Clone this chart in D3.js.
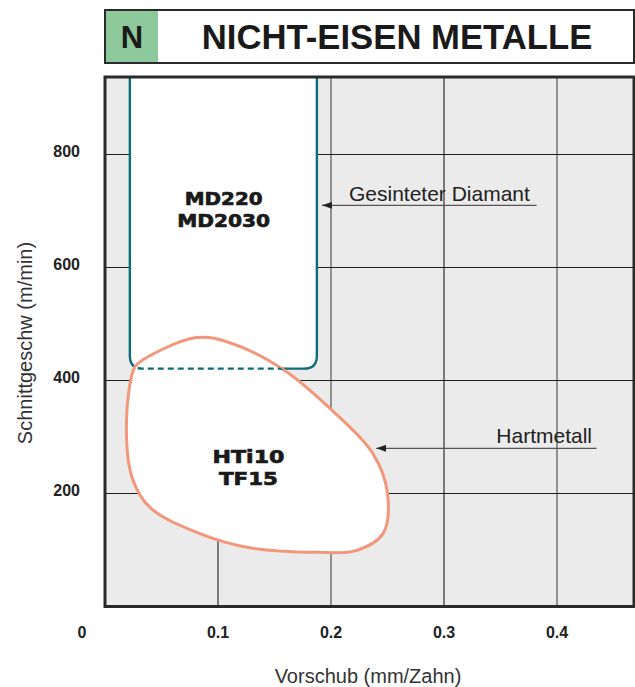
<!DOCTYPE html>
<html><head><meta charset="utf-8">
<script src="https://cdn.jsdelivr.net/npm/d3@7"></script>
<style>
html,body{margin:0;padding:0;background:#fff;}
svg{display:block;font-family:"Liberation Sans",Arial,Helvetica,sans-serif;}
</style></head>
<body>
<svg id="chart" width="635" height="687"></svg>
<script>
// ---- data ----
const titleLetter = "N";
const titleText = "NICHT-EISEN METALLE";
const xTicks = [0.1, 0.2, 0.3, 0.4];
const xTickLabels = ["0.1", "0.2", "0.3", "0.4"];
const yTicks = [200, 400, 600, 800];
const yTickLabels = ["200", "400", "600", "800"];
const originLabel = "0";
const xTitle = "Vorschub (mm/Zahn)";
const yTitle = "Schnittgeschw (m/min)";
// Sintered diamond region (MD220/MD2030): feed range and minimum speed
const diamondFeed = [0.022, 0.1875];
const diamondSpeed = [421, 1000];
const diamondLabels = ["MD220", "MD2030"];
const diamondLabelPos = [0.105, 710, 671];
const diamondName = "Gesinteter Diamant";
const diamondArrow = [[0.382, 710], [0.192, 710]];
const diamondNamePos = [0.376, 718];
// Carbide region (HTi10/TF15) outline points [feed, speed]
const carbideFeed =  [0.029, 0.081, 0.113, 0.158, 0.201, 0.237, 0.250, 0.246, 0.222, 0.187, 0.128, 0.084, 0.040, 0.024, 0.019, 0.025];
const carbideSpeed = [430,   476,   465,   419,   347,   271,   200,   129,   99,    96,    104,   129,   175,   228,   329,   418];
const carbideLabels = ["HTi10", "TF15"];
const carbideLabelPos = [0.127, 254, 215];
const carbideName = "Hartmetall";
const carbideArrow = [[0.435, 280], [0.240, 280]];
const carbideNamePos = [0.431, 290];

// ---- layout ----
const svg = d3.select("#chart");
const L = 105, R = 634, T = 77, B = 606.5;
const x = d3.scaleLinear().domain([0, (R - L) / 1130]).range([L, R]);
const y = d3.scaleLinear().domain([0, (B - T) * 200 / 113]).range([B, T]);

const teal = "#0f6b78", salmon = "#f2977b";

// header
svg.append("rect").attr("x", 105).attr("y", 10).attr("width", 529).attr("height", 53)
  .attr("fill", "#fff").attr("stroke", "#2a2a2a").attr("stroke-width", 2);
svg.append("rect").attr("x", 106).attr("y", 11).attr("width", 52).attr("height", 51).attr("fill", "#8dc99a");
svg.append("text").attr("x", 132).attr("y", 48).attr("text-anchor", "middle")
  .attr("font-size", 31).attr("font-weight", "bold").attr("fill", "#1a1a1a").text(titleLetter);
svg.append("text").attr("x", 397).attr("y", 49).attr("text-anchor", "middle")
  .attr("font-size", 34.7).attr("font-weight", "bold").attr("fill", "#1a1a1a").text(titleText);

// plot background
svg.append("rect").attr("x", L).attr("y", T).attr("width", R - L).attr("height", B - T).attr("fill", "#ebebeb");

svg.append("defs").append("clipPath").attr("id", "plotclip")
  .append("rect").attr("x", L).attr("y", T).attr("width", R - L).attr("height", B - T);

// grid
const g = svg.append("g").attr("clip-path", "url(#plotclip)");
g.selectAll("line.vx").data(xTicks).enter().append("line")
  .attr("x1", d => x(d)).attr("x2", d => x(d)).attr("y1", T).attr("y2", B)
  .attr("stroke", (d, i) => i % 2 ? "#7a7a7a" : "#1e1e1e")
  .attr("stroke-width", (d, i) => i % 2 ? 1.6 : 1.1);
g.selectAll("line.hy").data(yTicks).enter().append("line")
  .attr("x1", L).attr("x2", R).attr("y1", d => y(d)).attr("y2", d => y(d))
  .attr("stroke", "#1e1e1e").attr("stroke-width", 1.1);

// diamond box
const r = 13;
const dx0 = x(diamondFeed[0]), dx1 = x(diamondFeed[1]), dyB = y(diamondSpeed[0]), dyT = y(diamondSpeed[1]);
const boxPath = `M${dx0},${dyT} L${dx0},${dyB - r} Q${dx0},${dyB} ${dx0 + r},${dyB} L${dx1 - r},${dyB} Q${dx1},${dyB} ${dx1},${dyB - r} L${dx1},${dyT}`;
g.append("path").attr("d", boxPath + " Z").attr("fill", "#fff").attr("stroke", "none");
g.append("path").attr("d", boxPath).attr("fill", "none").attr("stroke", teal).attr("stroke-width", 2.4);

// carbide blob
const blobPts = carbideFeed.map((f, i) => [x(f), y(carbideSpeed[i])]);
const blobLine = d3.line().curve(d3.curveCatmullRomClosed.alpha(0.5));
const blobD = blobLine(blobPts);
svg.select("defs").append("clipPath").attr("id", "blobclip").append("path").attr("d", blobD);
g.append("path").attr("d", blobD).attr("fill", "#fff").attr("stroke", salmon).attr("stroke-width", 3);
g.append("g").attr("clip-path", "url(#blobclip)")
  .append("path").attr("d", boxPath).attr("fill", "none").attr("stroke", teal)
  .attr("stroke-width", 2.4).attr("stroke-dasharray", "6,4");

// frame
svg.append("rect").attr("x", L).attr("y", T).attr("width", R - L).attr("height", B - T)
  .attr("fill", "none").attr("stroke", "#2a2a2a").attr("stroke-width", 3);

// region labels (one text block, two lines), stretched to the reference widths
const lab = (pos, lines, size, widths) => {
  const t = svg.append("text").attr("text-anchor", "middle")
    .attr("font-size", size).attr("font-weight", "bold").attr("fill", "#1a1a1a")
    .attr("stroke", "#1a1a1a").attr("stroke-width", 0.7)
    .attr("font-family", "'DejaVu Sans', sans-serif");
  lines.forEach((s, i) => t.append("tspan").attr("x", x(pos[0])).attr("y", y(pos[1 + i]))
    .attr("textLength", widths[i]).attr("lengthAdjust", "spacingAndGlyphs").text(s));
};
lab(diamondLabelPos, diamondLabels, 18.5, [78, 93]);
lab(carbideLabelPos, carbideLabels, 18.5, [72, 59]);

// annotation arrows (head points along the line direction, tip at the end)
const defs = svg.select("defs");
defs.append("marker").attr("id", "arr").attr("viewBox", "0 0 10 10").attr("refX", 10).attr("refY", 5)
  .attr("markerWidth", 10).attr("markerHeight", 7).attr("markerUnits", "userSpaceOnUse").attr("orient", "auto")
  .attr("preserveAspectRatio", "none")
  .append("path").attr("d", "M0,0 L10,5 L0,10 Z").attr("fill", "#222");
[[diamondArrow, diamondName, diamondNamePos], [carbideArrow, carbideName, carbideNamePos]].forEach(([a, name, p]) => {
  svg.append("line").attr("x1", x(a[0][0])).attr("y1", y(a[0][1])).attr("x2", x(a[1][0])).attr("y2", y(a[1][1]))
    .attr("stroke", "#555").attr("stroke-width", 1.3).attr("marker-end", "url(#arr)");
  svg.append("text").attr("x", x(p[0])).attr("y", y(p[1])).attr("text-anchor", "end")
    .attr("font-size", 21).attr("fill", "#222").text(name);
});

// tick labels
svg.selectAll("text.xt").data(xTicks).enter().append("text")
  .attr("x", d => x(d)).attr("y", 638).attr("text-anchor", "middle")
  .attr("font-size", 16).attr("font-weight", "bold").attr("fill", "#222")
  .text((d, i) => xTickLabels[i]);
svg.append("text").attr("x", x(0) - 23).attr("y", 638).attr("text-anchor", "middle")
  .attr("font-size", 16).attr("font-weight", "bold").attr("fill", "#222").text(originLabel);
svg.selectAll("text.yt").data(yTicks).enter().append("text")
  .attr("x", 80).attr("y", d => y(d) + 2).attr("text-anchor", "end")
  .attr("font-size", 16).attr("font-weight", "bold").attr("fill", "#222")
  .text((d, i) => yTickLabels[i]);

// axis titles
svg.append("text").attr("x", 368).attr("y", 683).attr("text-anchor", "middle")
  .attr("font-size", 20).attr("fill", "#333").text(xTitle);
svg.append("text").attr("transform", "translate(32,343) rotate(-90)").attr("text-anchor", "middle")
  .attr("font-size", 20).attr("fill", "#333").text(yTitle);
</script>
</body></html>
